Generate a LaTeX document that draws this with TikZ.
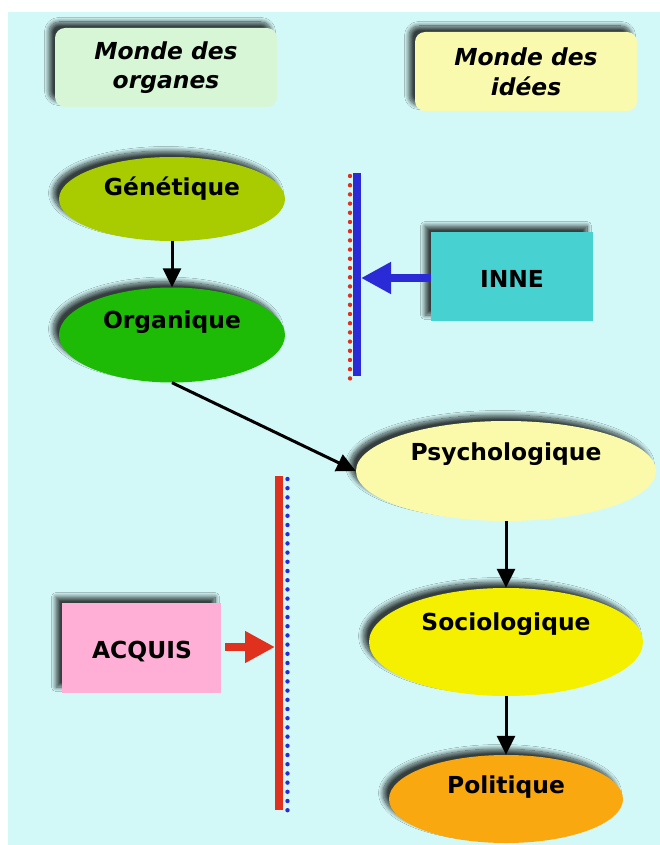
\documentclass[tikz,border=0pt]{standalone}
\usepackage{fontspec}
\setmainfont{DejaVu Sans}
\usetikzlibrary{shapes.geometric,arrows.meta,shadows,shadows.blur}
\definecolor{bgc}{RGB}{211,248,248}
\definecolor{orgbox}{RGB}{214,246,214}
\definecolor{ideebox}{RGB}{250,250,175}
\definecolor{genc}{RGB}{168,204,0}
\definecolor{orgc}{RGB}{30,187,6}
\definecolor{innec}{RGB}{72,209,209}
\definecolor{psyc}{RGB}{250,250,170}
\definecolor{socc}{RGB}{245,239,0}
\definecolor{polc}{RGB}{250,168,15}
\definecolor{acqc}{RGB}{255,174,214}
\definecolor{barblue}{RGB}{42,42,215}
\definecolor{barred}{RGB}{224,48,30}
\begin{document}
\begin{tikzpicture}[x=1pt,y=-1pt,
  shade/.style={blur shadow={shadow xshift=-6pt,shadow yshift=6pt,shadow blur radius=4.5pt,shadow blur steps=12,shadow opacity=75}},
  oval/.style={ellipse,inner sep=0pt,shade},
  boxc/.style={rectangle,inner sep=0pt,shade},
  titlebox/.style={rectangle,rounded corners=10pt,inner sep=0pt,minimum width=222pt,minimum height=79pt,shade},
  lbl/.style={anchor=base,font=\fontsize{23.4}{29}\selectfont\bfseries},
  ttl/.style={align=center,font=\fontsize{23.4}{29.5}\selectfont\bfseries\itshape},
  flow/.style={line width=3pt,-{Triangle[length=19pt,width=18pt]}},
  push/.style={line width=8.5pt,-{Triangle[length=30pt,width=30pt]}}
]
\useasboundingbox (0,0) rectangle (660,845);
\fill[bgc] (8,12) rectangle (660,845);

% title boxes
\node[titlebox,fill=orgbox] (torg) at (166,67.5) {};
\node[ttl] (torgT) at (166,67.5) {Monde des\\organes};
\node[titlebox,fill=ideebox] (tid) at (526,71.5) {};
\node[ttl] (tidT) at (526,72) {Monde des\\idées};

% ellipses
\node[oval,fill=genc,minimum width=226pt,minimum height=84pt] (gen) at (172,199) {};
\node[lbl] (genT) at (172,195) {Génétique};
\node[oval,fill=orgc,minimum width=226pt,minimum height=95pt] (org) at (172,335) {};
\node[lbl] (orgT) at (172,328) {Organique};
\node[oval,fill=psyc,minimum width=300pt,minimum height=100pt] (psy) at (506,471) {};
\node[lbl] (psyT) at (506,460) {Psychologique};
\node[oval,fill=socc,minimum width=274pt,minimum height=108pt] (soc) at (506,642) {};
\node[lbl] (socT) at (506,630) {Sociologique};
\node[oval,fill=polc,minimum width=234pt,minimum height=88pt] (pol) at (506,799) {};
\node[lbl] (polT) at (506,793) {Politique};

% boxes
\node[boxc,fill=innec,minimum width=162pt,minimum height=89pt] (inne) at (512,276.5) {};
\node[lbl] (inneT) at (512,287) {INNE};
\node[boxc,fill=acqc,minimum width=159pt,minimum height=90pt] (acq) at (141.5,648) {};
\node[lbl] (acqT) at (142,658) {ACQUIS};

% bars
\coordinate (b1t) at (357,173);
\coordinate (b1b) at (357,376);
\draw[barblue,line width=8pt] (b1t) -- (b1b);
\foreach \k in {0,...,22} {\fill[barred] (350,176+9.2*\k) circle[radius=2.2pt];}
\coordinate (b2t) at (279,476);
\coordinate (b2b) at (279,810);
\draw[barred,line width=8pt] (b2t) -- (b2b);
\foreach \k in {0,...,36} {\fill[barblue] (287.5,479+9.2*\k) circle[radius=2.2pt];}

% connectors
\coordinate (hitInne) at (361,278);
\coordinate (hitAcq) at (275,647);
\draw[flow] (gen.south) -- (org.north);
\draw[flow] (org.south) -- (psy.west);
\draw[flow] (psy.south) -- (soc.north);
\draw[flow] (soc.south) -- (pol.north);
\draw[push,barblue] (inne.west |- hitInne) -- (hitInne);
\draw[push,barred,shorten <=4pt] (acq.east |- hitAcq) -- (hitAcq);
\end{tikzpicture}
\end{document}
